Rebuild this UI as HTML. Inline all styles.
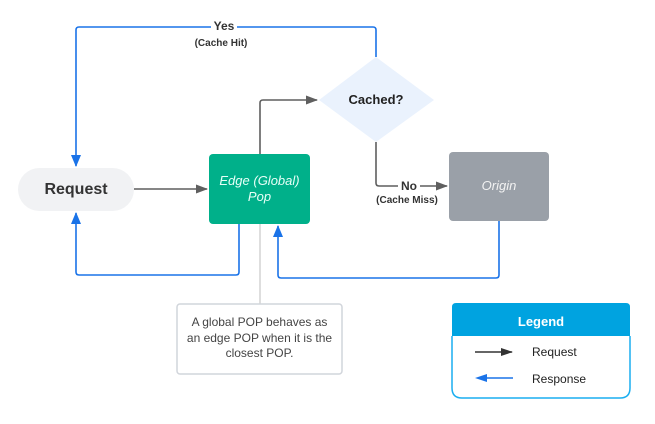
<!DOCTYPE html>
<html><head><style>
body{margin:0;background:#fff;width:655px;height:419px;overflow:hidden;font-family:"Liberation Sans",sans-serif}
</style></head><body>
<svg width="655" height="419" viewBox="0 0 655 419" xmlns="http://www.w3.org/2000/svg" font-family="Liberation Sans, sans-serif">
<defs>
<marker id="ag" markerWidth="12" markerHeight="9" refX="11" refY="4.5" orient="auto" markerUnits="userSpaceOnUse"><path d="M0,0 L12,4.5 L0,9 z" fill="#5f5f5f"/></marker>
<marker id="ab" markerWidth="12" markerHeight="10" refX="11" refY="5" orient="auto" markerUnits="userSpaceOnUse"><path d="M0,0 L12,5 L0,10 z" fill="#1a73e8"/></marker>
<marker id="ak" markerWidth="12" markerHeight="8" refX="11" refY="4" orient="auto" markerUnits="userSpaceOnUse"><path d="M0,0 L12,4 L0,8 z" fill="#333"/></marker>
</defs>
<g fill="none" stroke-width="1.6" stroke-linejoin="round">
<path d="M376,57 V30 Q376,27 373,27 H79 Q76,27 76,30 V166" stroke="#1a73e8" marker-end="url(#ab)"/>
<path d="M134,189 H207" stroke="#5f5f5f" marker-end="url(#ag)"/>
<path d="M260,154 V103 Q260,100 263,100 H317" stroke="#5f5f5f" marker-end="url(#ag)"/>
<path d="M376,142 V183 Q376,186 379,186 H447" stroke="#5f5f5f" marker-end="url(#ag)"/>
<path d="M239,224 V272 Q239,275 236,275 H79 Q76,275 76,272 V213" stroke="#1a73e8" marker-end="url(#ab)"/>
<path d="M499,221 V275 Q499,278 496,278 H281 Q278,278 278,275 V226" stroke="#1a73e8" marker-end="url(#ab)"/>
<path d="M260,224 V304" stroke="#c8c8c8" stroke-width="1.2"/>
</g>
<rect x="211" y="19" width="26" height="12" fill="#fff"/>
<text x="224" y="30" font-size="12" font-weight="bold" fill="#333" text-anchor="middle">Yes</text>
<text x="221" y="46" font-size="10" font-weight="bold" fill="#333" text-anchor="middle">(Cache Hit)</text>
<rect x="398" y="180" width="22" height="12" fill="#fff"/>
<text x="409" y="190" font-size="12" font-weight="bold" fill="#333" text-anchor="middle">No</text>
<text x="407" y="203" font-size="10" font-weight="bold" fill="#333" text-anchor="middle">(Cache Miss)</text>
<rect x="18" y="168" width="116" height="43" rx="21.5" fill="#f1f2f4"/>
<text x="76" y="194" font-size="16" font-weight="bold" fill="#333" text-anchor="middle">Request</text>
<rect x="209" y="154" width="101" height="70" rx="4" fill="#00b08a"/>
<text x="259.5" y="185" font-size="13" font-style="italic" fill="#e6fff7" text-anchor="middle">Edge (Global)</text>
<text x="259.5" y="201" font-size="13" font-style="italic" fill="#e6fff7" text-anchor="middle">Pop</text>
<polygon points="376,57 434,100 376,142 319,100" fill="#eaf2fd"/>
<text x="376" y="104" font-size="13" font-weight="bold" fill="#222" text-anchor="middle">Cached?</text>
<rect x="449" y="152" width="100" height="69" rx="4" fill="#9aa0a8"/>
<text x="499" y="190" font-size="13" font-style="italic" fill="#f2f2f2" text-anchor="middle">Origin</text>
<rect x="177" y="304" width="165" height="70" rx="3" fill="#fff" stroke="#d1d5db" stroke-width="1.5"/>
<g font-size="12" fill="#444" text-anchor="middle">
<text x="259.5" y="326">A global POP behaves as</text>
<text x="259.5" y="342">an edge POP when it is the</text>
<text x="259.5" y="357">closest POP.</text>
</g>
<path d="M452,336 V388 Q452,398 462,398 H620 Q630,398 630,388 V336" fill="#fff" stroke="#1aaef0" stroke-width="1.5"/>
<path d="M452,336 V307 Q452,303 456,303 H626 Q630,303 630,307 V336 Z" fill="#00a3e0"/>
<text x="541" y="326" font-size="13" font-weight="bold" fill="#fff" text-anchor="middle">Legend</text>
<path d="M475,352 H512" stroke="#333" stroke-width="1.5" marker-end="url(#ak)"/>
<text x="532" y="356" font-size="12" fill="#222">Request</text>
<path d="M513,378 H480" stroke="#1a73e8" stroke-width="1.5"/>
<path d="M475,378 L487,374 L487,382 z" fill="#1a73e8"/>
<text x="532" y="383" font-size="12" fill="#222">Response</text>
</svg>
</body></html>
